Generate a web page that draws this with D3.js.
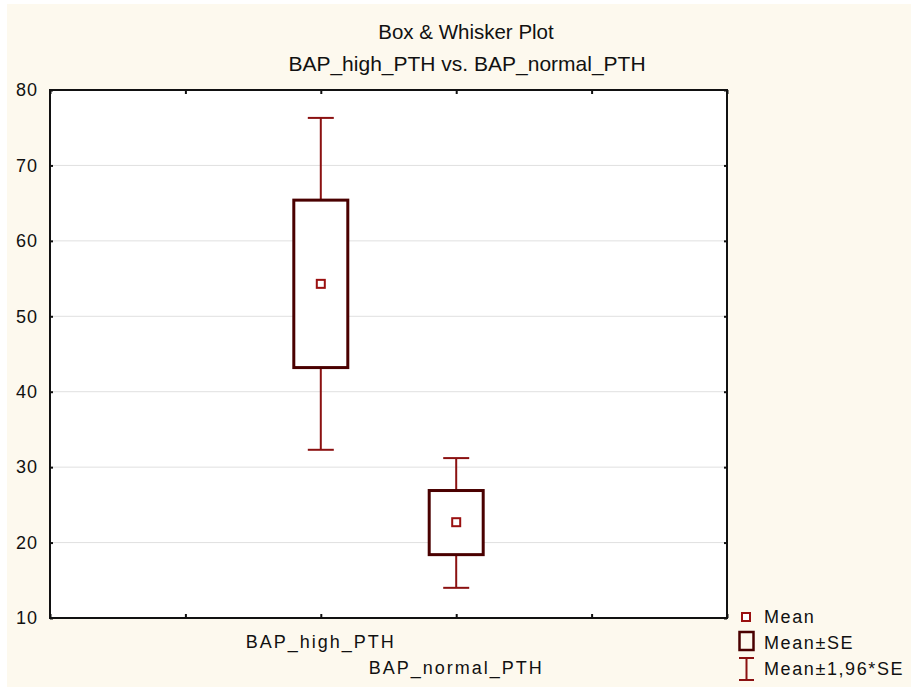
<!doctype html>
<html>
<head>
<meta charset="utf-8">
<script src="https://cdn.jsdelivr.net/npm/d3@7"></script>
<style>
  body { margin: 0; background: #fff; }
  text { font-family: "Liberation Sans", Arial, sans-serif; fill: #111; }
</style>
</head>
<body>
<svg id="chart"></svg>
<script>
    const categories = ["BAP_high_PTH", "BAP_normal_PTH"];
    const means = [54.3, 22.7];
    const seLow = [43.2, 18.4];
    const seHigh = [65.4, 26.9];
    const ciLow = [32.3, 14.0];
    const ciHigh = [76.3, 31.2];
    const yTicks = [10, 20, 30, 40, 50, 60, 70, 80];

    const width = 911, height = 687;
    const plot = {left: 50, right: 727, top: 90, bottom: 618};

    const svg = d3.select("#chart")
        .attr("width", width)
        .attr("height", height);

    svg.append("rect")
        .attr("x", 7).attr("y", 4)
        .attr("width", width - 7).attr("height", height - 4)
        .attr("fill", "#fdf9ee");

    // category slots 2 and 3 of 0..5
    const x = d3.scaleLinear().domain([0, 5]).range([plot.left, plot.right]);
    const y = d3.scaleLinear().domain([10, 80]).range([plot.bottom, plot.top]);
    const cx = i => x(i + 2);

    svg.append("rect")
        .attr("x", plot.left).attr("y", plot.top)
        .attr("width", plot.right - plot.left).attr("height", plot.bottom - plot.top)
        .attr("fill", "#fff");

    // gridlines
    svg.append("g")
        .selectAll("line")
        .data(yTicks.slice(1, -1))
        .join("line")
        .attr("x1", plot.left).attr("x2", plot.right)
        .attr("y1", d => y(d)).attr("y2", d => y(d))
        .attr("stroke", "#e0e0e0").attr("stroke-width", 1);

    // axes with inward ticks
    svg.append("g")
        .attr("transform", `translate(${plot.left},0)`)
        .call(d3.axisLeft(y).tickValues(yTicks).tickSize(-3).tickPadding(12))
        .call(g => g.select(".domain").remove())
        .call(g => g.selectAll("text").attr("font-size", 18).attr("letter-spacing", 1).attr("fill", "#111"));
    svg.append("g")
        .attr("transform", `translate(${plot.right},0)`)
        .call(d3.axisRight(y).tickValues(yTicks).tickSize(-3).tickFormat(""))
        .call(g => g.select(".domain").remove());
    svg.append("g")
        .attr("transform", `translate(0,${plot.bottom})`)
        .call(d3.axisBottom(x).tickValues(d3.range(6)).tickSize(-4).tickFormat(""))
        .call(g => g.select(".domain").remove());
    svg.append("g")
        .attr("transform", `translate(0,${plot.top})`)
        .call(d3.axisTop(x).tickValues(d3.range(6)).tickSize(-4).tickFormat(""))
        .call(g => g.select(".domain").remove());
    svg.selectAll(".tick line").attr("stroke", "#111").attr("stroke-width", 2);

    svg.append("rect")
        .attr("x", plot.left).attr("y", plot.top)
        .attr("width", plot.right - plot.left).attr("height", plot.bottom - plot.top)
        .attr("fill", "none").attr("stroke", "#111").attr("stroke-width", 2);

    // category labels, staggered
    svg.append("g")
        .selectAll("text")
        .data(categories)
        .join("text")
        .attr("x", (d, i) => cx(i))
        .attr("y", (d, i) => 648 + i * 26)
        .attr("text-anchor", "middle")
        .attr("font-size", 18)
        .attr("letter-spacing", 2)
        .text(d => d);

    // whiskers
    const whiskerColor = "#8b1111", boxColor = "#4a0000";
    const boxW = 54, capW = 26;
    const g = svg.append("g");
    categories.forEach((c, i) => {
        g.append("line")
            .attr("x1", cx(i)).attr("x2", cx(i))
            .attr("y1", y(ciHigh[i])).attr("y2", y(ciLow[i]))
            .attr("stroke", whiskerColor).attr("stroke-width", 2);
        [ciHigh[i], ciLow[i]].forEach(v => {
            g.append("line")
                .attr("x1", cx(i) - capW / 2).attr("x2", cx(i) + capW / 2)
                .attr("y1", y(v)).attr("y2", y(v))
                .attr("stroke", whiskerColor).attr("stroke-width", 2);
        });
        g.append("rect")
            .attr("x", cx(i) - boxW / 2).attr("y", y(seHigh[i]))
            .attr("width", boxW).attr("height", y(seLow[i]) - y(seHigh[i]))
            .attr("fill", "#fff").attr("stroke", boxColor).attr("stroke-width", 3);
        g.append("rect")
            .attr("x", cx(i) - 4).attr("y", y(means[i]) - 4)
            .attr("width", 8).attr("height", 8)
            .attr("fill", "#fff").attr("stroke", "#9a1010").attr("stroke-width", 2);
    });

    // titles
    svg.append("text")
        .attr("x", 466).attr("y", 39)
        .attr("text-anchor", "middle")
        .attr("font-size", 20.5)
        .text("Box & Whisker Plot");
    svg.append("text")
        .attr("x", 467).attr("y", 71)
        .attr("text-anchor", "middle")
        .attr("font-size", 21)
        .text("BAP_high_PTH vs. BAP_normal_PTH");

    // legend
    const lg = svg.append("g");
    lg.append("rect").attr("x", 742).attr("y", 613).attr("width", 8).attr("height", 8)
        .attr("fill", "#fff").attr("stroke", "#9a1010").attr("stroke-width", 2);
    lg.append("rect").attr("x", 739.5).attr("y", 632).attr("width", 14).attr("height", 18)
        .attr("fill", "none").attr("stroke", boxColor).attr("stroke-width", 2.5);
    lg.append("line").attr("x1", 746.5).attr("x2", 746.5).attr("y1", 658).attr("y2", 680)
        .attr("stroke", whiskerColor).attr("stroke-width", 2);
    lg.append("line").attr("x1", 739).attr("x2", 754).attr("y1", 658).attr("y2", 658)
        .attr("stroke", whiskerColor).attr("stroke-width", 2);
    lg.append("line").attr("x1", 739).attr("x2", 754).attr("y1", 680).attr("y2", 680)
        .attr("stroke", whiskerColor).attr("stroke-width", 2);
    lg.selectAll("text.leg")
        .data(["Mean", "Mean\u00b1SE", "Mean\u00b11,96*SE"])
        .join("text")
        .attr("class", "leg")
        .attr("x", 764)
        .attr("y", (d, i) => 623 + i * 26)
        .attr("font-size", 18)
        .attr("letter-spacing", 1.6)
        .text(d => d);
</script>
</body>
</html>
